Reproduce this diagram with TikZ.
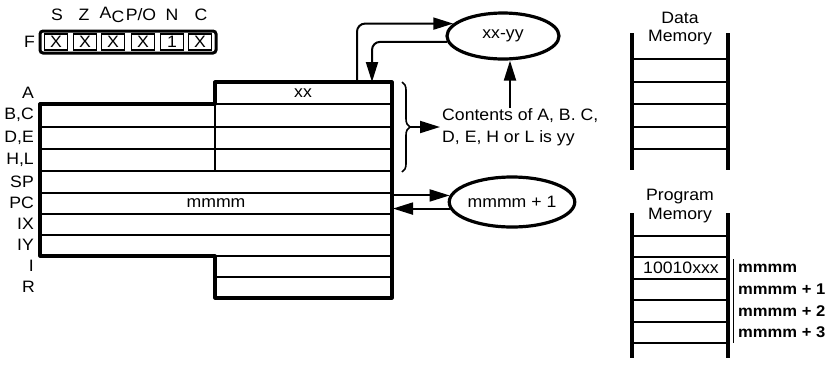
\documentclass[tikz,border=0pt]{standalone}
\usepackage{fontspec}
\setmainfont{Liberation Sans}[FakeStretch=1.07]
\usetikzlibrary{arrows.meta,shapes.geometric,decorations.pathreplacing}
\begin{document}
\begin{tikzpicture}[x=1pt,y=-1pt,
  font=\fontsize{16.5}{18}\selectfont,
  thickline/.style={line width=3.2pt, line join=round},
  thinline/.style={line width=1.8pt},
  arr/.style={line width=2pt,-{Triangle[length=20pt,width=12pt]}},
  lbl/.style={inner sep=0pt},
  reglbl/.style={inner sep=0pt, anchor=east},
  flagcell/.style={draw, line width=1.3pt, minimum width=23pt, minimum height=16pt, inner sep=0pt},
  oval/.style={ellipse, draw, line width=3.2pt, inner sep=0pt},
  addr/.style={inner sep=0pt, anchor=west, font=\fontsize{15.5}{18}\selectfont\bfseries}]
\useasboundingbox (0,0) rectangle (827,365);

% ---- Flag register ----
\node[lbl] (fS) at (57,15) {S};
\node[lbl] (fZ) at (84,15) {Z};
\node[lbl] (fA) at (112,15) {A\raisebox{-4pt}{C}};
\node[lbl] (fP) at (141,15) {P/O};
\node[lbl] (fN) at (172,15) {N};
\node[lbl] (fC) at (201,15) {C};
\node[reglbl] (F) at (35,42) {F};
\draw[line width=3pt, rounded corners=3pt] (40,31) rectangle (216,53);
\foreach \x/\t [count=\i] in {56/X,85/X,113/X,143/X,172/1,200/X}
  \node[flagcell] (cell\i) at (\x,42) {\t};

% ---- Register block ----
\draw[thickline] (215,82) -- (392,82) -- (392,298) -- (215,298) -- (215,256)
   -- (40,256) -- (40,104) -- (215,104) -- cycle;
\draw[thinline] (215,104) -- (392,104);
\foreach \y in {127,149,171,193,214,235}
  \draw[thinline] (40,\y) -- (392,\y);
\draw[thinline] (215,256) -- (392,256);
\draw[thinline] (215,277) -- (392,277);
\draw[thinline] (215,104) -- (215,171);

\node[lbl] (xx) at (303,93) {xx};
\node[lbl] (mm) at (216,203) {mmmm};

\node[reglbl] (lA)  at (34,93)  {A};
\node[reglbl] (lBC) at (34,115) {B,C};
\node[reglbl] (lDE) at (34,138) {D,E};
\node[reglbl] (lHL) at (34,160) {H,L};
\node[reglbl] (lSP) at (34,182) {SP};
\node[reglbl] (lPC) at (34,203) {PC};
\node[reglbl] (lIX) at (34,224) {IX};
\node[reglbl] (lIY) at (34,245) {IY};
\node[reglbl] (lI)  at (34,266) {I};
\node[reglbl] (lR)  at (35,287) {R};

% ---- xx-yy ellipse and connectors ----
\node[oval, minimum width=112pt, minimum height=46pt] (e1) at (503,36) {xx-yy};
\coordinate (aout) at (357,82);
\coordinate (ain) at (372,82);
\draw[arr, rounded corners=8pt] (aout) |- (e1.166);
\draw[arr, rounded corners=8pt] (e1.186) -| (ain);

% brace and explanation
\coordinate (bt) at (402,82);
\coordinate (bb) at (402,172);
\draw[line width=1.6pt, decorate, decoration={brace, amplitude=8pt}] (bt) -- (bb);
\coordinate (btip) at (410,127);
\node[inner sep=0pt, anchor=west, align=left, font=\fontsize{16.5}{22}\selectfont] (cont) at (442,127)
  {Contents of A, B. C,\\D, E, H or L is yy};
\draw[arr, shorten >=2pt] (btip) -- (btip -| cont.west);
\coordinate (up0) at (510,108);
\draw[arr] (up0) -- (up0 |- e1.south);

% ---- mmmm + 1 ellipse ----
\node[oval, minimum width=121pt, minimum height=50pt] (e2) at (512,202) {mmmm + 1};
\coordinate (pcR) at (393,202);
\draw[arr] (e2.174 -| pcR) -- (e2.174);
\draw[arr] (e2.186) -- (e2.186 -| pcR);

% ---- Data memory ----
\node[lbl] (dm1) at (680,18) {Data};
\node[lbl] (dm2) at (680,38) {Memory};
\draw[thickline] (632,33) -- (632,170);
\draw[thickline] (728,33) -- (728,170);
\foreach \y in {59,82,104,127,149}
  \draw[thinline] (632,\y) -- (728,\y);

% ---- Program memory ----
\node[lbl] (pm1) at (680,197) {Program};
\node[lbl] (pm2) at (680,216) {Memory};
\draw[thickline] (632,213) -- (632,358);
\draw[thickline] (728,213) -- (728,358);
\foreach \y in {236,257,279,300,322,343}
  \draw[thinline] (632,\y) -- (728,\y);
\node[lbl] (op) at (681,268) {10010xxx};
\draw[line width=1pt] (733,259) -- (733,343);
\node[addr] (m0) at (738,268) {mmmm};
\node[addr] (m1) at (738,289) {mmmm + 1};
\node[addr] (m2) at (738,311) {mmmm + 2};
\node[addr] (m3) at (738,332) {mmmm + 3};
\end{tikzpicture}
\end{document}
